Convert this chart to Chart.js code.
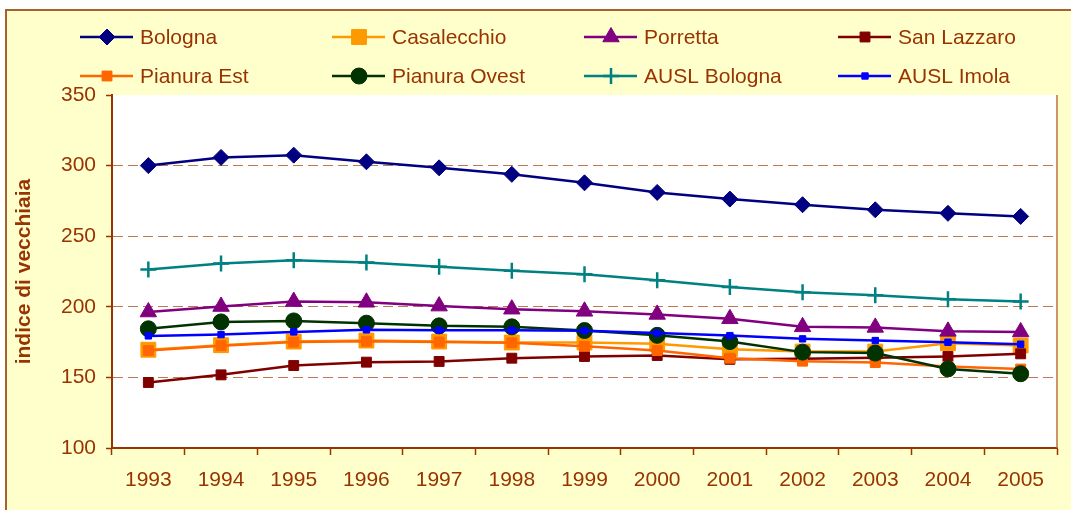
<!DOCTYPE html>
<html>
<head>
<meta charset="utf-8">
<title>Indice di vecchiaia</title>
<script src="https://cdn.jsdelivr.net/npm/chart.js@4.4.1/dist/chart.umd.min.js"></script>
<style>
    html, body { margin: 0; padding: 0; background: #ffffff; overflow: hidden; }
    #cornice {
        position: absolute; left: 5px; top: 9px; width: 1080px; height: 520px;
        background: #ffffcc; border: 2px solid #a8622e; box-sizing: border-box;
    }
    #contenitore { position: absolute; left: 0; top: 0; width: 1071px; height: 510px; }
</style>
</head>
<body>
<div id="cornice"></div>
<div id="contenitore"><canvas id="grafico"></canvas></div>
<script>
// Dati
const anni = ['1993', '1994', '1995', '1996', '1997', '1998', '1999', '2000', '2001', '2002', '2003', '2004', '2005'];

const bologna     = [300.0, 305.8, 307.4, 302.7, 298.4, 293.8, 287.8, 281.0, 276.3, 272.3, 268.7, 266.2, 264.0];
const casalecchio = [169.6, 172.8, 175.4, 176.1, 175.4, 174.7, 174.7, 173.8, 170.0, 168.3, 168.3, 174.2, 172.6];
const porretta    = [196.3, 200.2, 203.7, 203.2, 200.5, 198.3, 196.8, 194.6, 191.5, 185.8, 185.4, 182.6, 182.2];
const sanLazzaro  = [146.4, 151.8, 158.4, 160.8, 161.3, 163.6, 164.8, 165.5, 162.8, 163.2, 164.0, 164.8, 166.7];
const pianuraEst  = [169.0, 172.5, 175.0, 175.6, 175.0, 174.5, 172.0, 169.0, 163.6, 161.5, 160.5, 157.7, 155.9];
const pianuraOvest = [184.4, 189.3, 190.0, 188.4, 186.5, 185.8, 183.2, 179.8, 175.4, 167.9, 167.2, 156.0, 152.6];
const auslBologna = [226.4, 230.6, 233.0, 231.3, 228.4, 225.6, 223.0, 218.8, 214.1, 210.3, 208.2, 205.4, 203.7];
const auslImola   = [179.4, 180.3, 182.2, 183.7, 183.4, 183.4, 183.0, 181.4, 179.6, 177.3, 176.1, 174.9, 173.5];

const nomi = ['Bologna', 'Casalecchio', 'Porretta', 'San Lazzaro', 'Pianura Est', 'Pianura Ovest', 'AUSL Bologna', 'AUSL Imola'];
const serie = [bologna, casalecchio, porretta, sanLazzaro, pianuraEst, pianuraOvest, auslBologna, auslImola];

const yMin = 100;
const yMax = 350;
const yPasso = 50;
const titoloY = 'indice di vecchiaia';

// stile
const colori = ['#000080', '#ff9900', '#800080', '#800000', '#ff6600', '#003300', '#008080', '#0000ff'];
const simboli = ['rectRot', 'rect', 'triangle', 'rect', 'rect', 'circle', 'cross', 'rect'];
const raggi = [8, 10.5, 9.5, 7, 7, 8, 8, 4.5];
const marrone = '#993300';
const griglia = '#c07850';
const famiglia = '"Liberation Sans", Arial, sans-serif';

// posizione legenda (4 colonne, 2 righe)
const legendaX = [140, 392, 644, 898];
const legendaY = [37, 76];

const sfondoPlugin = {
    id: 'sfondoArea',
    beforeDraw(chart) {
        const a = chart.chartArea;
        const ctx = chart.ctx;
        ctx.save();
        ctx.fillStyle = '#ffffff';
        ctx.fillRect(a.left, a.top, a.right - a.left, a.bottom - a.top);
        ctx.restore();
    },
    afterDraw(chart) {
        const a = chart.chartArea;
        const ctx = chart.ctx;
        ctx.save();
        ctx.strokeStyle = '#b87040';
        ctx.lineWidth = 1.5;
        ctx.beginPath();
        ctx.moveTo(a.right, a.top);
        ctx.lineTo(a.right, a.bottom);
        ctx.stroke();
        ctx.restore();
    }
};

function disegnaSimbolo(ctx, ds, x, y) {
    const opts = { pointStyle: ds.pointStyle, radius: ds.pointRadius, borderWidth: ds.pointBorderWidth, rotation: 0 };
    if (Chart.helpers && Chart.helpers.drawPoint) {
        Chart.helpers.drawPoint(ctx, opts, x, y);
    } else {
        ctx.beginPath();
        ctx.arc(x, y, ds.pointRadius * 0.8, 0, Math.PI * 2);
        ctx.fill();
    }
}

const legendaPlugin = {
    id: 'legendaGriglia',
    afterDraw(chart) {
        const ctx = chart.ctx;
        ctx.save();
        chart.data.datasets.forEach((ds, i) => {
            const tx = legendaX[i % 4];
            const ty = legendaY[Math.floor(i / 4)];
            ctx.strokeStyle = ds.borderColor;
            ctx.lineWidth = 2.5;
            ctx.beginPath();
            ctx.moveTo(tx - 60, ty);
            ctx.lineTo(tx - 7, ty);
            ctx.stroke();
            ctx.fillStyle = ds.pointBackgroundColor;
            ctx.strokeStyle = ds.pointBorderColor;
            ctx.lineWidth = ds.pointBorderWidth;
            disegnaSimbolo(ctx, ds, tx - 33, ty);
            ctx.fillStyle = marrone;
            ctx.font = '21px ' + famiglia;
            ctx.textAlign = 'left';
            ctx.textBaseline = 'middle';
            ctx.fillText(ds.label, tx, ty + 1);
        });
        ctx.restore();
    }
};

const ctx = document.getElementById('grafico').getContext('2d');
const chart = new Chart(ctx, {
    type: 'line',
    data: {
        labels: anni,
        datasets: nomi.map((nome, i) => ({
            label: nome,
            data: serie[i],
            borderColor: colori[i],
            backgroundColor: colori[i],
            borderWidth: 2.5,
            pointStyle: simboli[i],
            pointRadius: raggi[i],
            pointHoverRadius: raggi[i],
            pointBackgroundColor: colori[i],
            pointBorderColor: colori[i],
            pointBorderWidth: simboli[i] === 'cross' ? 2.5 : 1,
            tension: 0,
            fill: false,
            order: nomi.length - i
        }))
    },
    options: {
        responsive: true,
        maintainAspectRatio: false,
        animation: false,
        layout: { padding: { top: 95, right: 14, left: 0, bottom: 0 } },
        plugins: {
            legend: { display: false },
            tooltip: { enabled: false }
        },
        scales: {
            x: {
                offset: true,
                afterFit: s => { s.height = 62; },
                grid: { offset: true, drawOnChartArea: false, drawTicks: true, tickLength: 7, tickColor: marrone, tickWidth: 1.5 },
                border: { display: true, color: marrone, width: 2 },
                ticks: { color: marrone, font: { family: famiglia, size: 21 }, padding: 13, maxRotation: 0, autoSkip: false }
            },
            y: {
                min: yMin,
                max: yMax,
                afterFit: s => { s.width = 112; },
                grid: {
                    color: c => (c.tick && (c.tick.value === yMin || c.tick.value === yMax)) ? 'rgba(0,0,0,0)' : griglia,
                    lineWidth: 1,
                    tickLength: 6,
                    tickColor: marrone,
                    tickWidth: 1.5
                },
                border: { display: true, color: marrone, width: 2, dash: [10, 5] },
                ticks: { stepSize: yPasso, color: marrone, font: { family: famiglia, size: 21 }, padding: 10 },
                title: {
                    display: true,
                    text: titoloY,
                    color: marrone,
                    font: { family: famiglia, size: 21, weight: 'bold' },
                    padding: { top: 12, bottom: 0 }
                }
            }
        }
    },
    plugins: [sfondoPlugin, legendaPlugin]
});
</script>
</body>
</html>
